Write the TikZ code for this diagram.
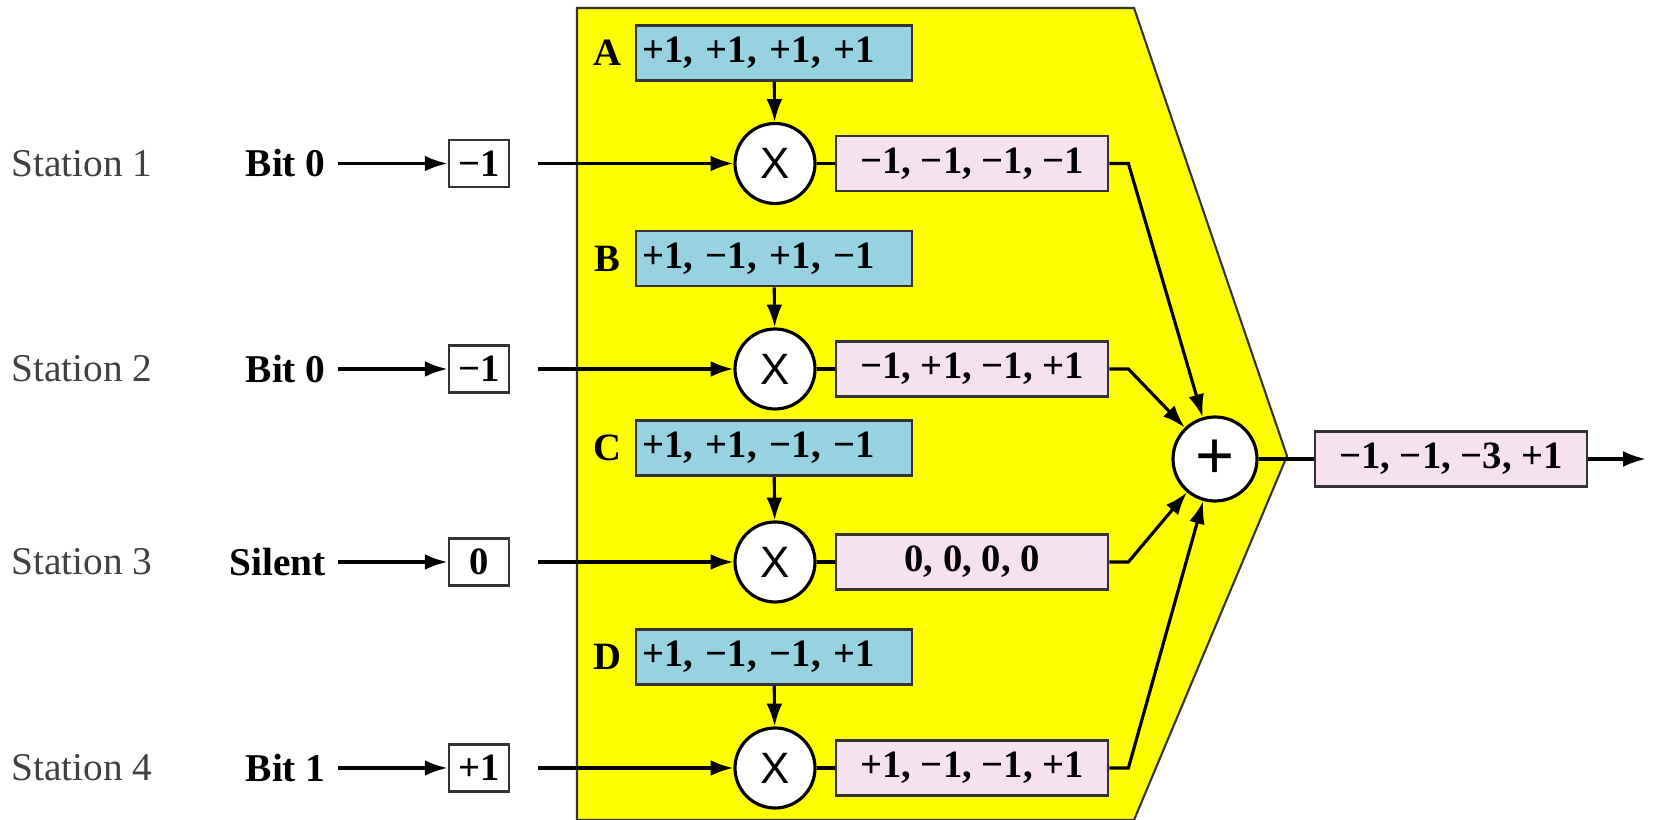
\documentclass[tikz,border=0pt]{standalone}
\usepackage{fontspec}
\setmainfont{Liberation Serif}
\newfontfamily\crossfont{Liberation Sans}
\usetikzlibrary{arrows.meta}
\definecolor{codeblue}{RGB}{150,210,226}
\definecolor{chippink}{RGB}{246,226,238}
\definecolor{boxyellow}{RGB}{255,255,0}
\tikzset{station/.style = {font=\fontsize{11.2}{13}\selectfont\color{black!75}}}
\tikzset{bitlabel/.style = {anchor=east,font=\fontsize{11.2}{13}\selectfont\bfseries}}
\tikzset{bitbox/.style = {shape=rectangle,draw=black!80,line width=0.8pt,fill=white,minimum width=0.6cm,minimum height=0.47cm,inner sep=0pt,font=\fontsize{11}{13}\selectfont\bfseries}}
\tikzset{codebox/.style = {shape=rectangle,draw=black!80,line width=0.8pt,fill=codeblue,text width=2.64cm,inner xsep=0.06cm,minimum height=0.53cm,align=left,font=\fontsize{11}{13}\selectfont\bfseries}}
\tikzset{chipbox/.style = {shape=rectangle,draw=black!80,line width=0.8pt,fill=chippink,minimum width=2.72cm,minimum height=0.55cm,font=\fontsize{11}{13}\selectfont\bfseries}}
\tikzset{mult/.style = {shape=circle,draw,line width=0.9pt,fill=white,minimum size=0.8cm,inner sep=0pt,font=\crossfont\fontsize{12.5}{14}\selectfont}}
\tikzset{sum/.style = {shape=circle,draw,line width=0.9pt,fill=white,minimum size=0.84cm,inner sep=0pt,font=\crossfont\fontsize{19}{22}\selectfont}}
\tikzset{letter/.style = {font=\fontsize{11}{13}\selectfont\bfseries}}
\tikzset{edge/.style = {->,> = {Latex[length=6.5pt,width=4.5pt]},line width=0.9pt}}

\begin{document}
\begin{tikzpicture}
          \useasboundingbox (0,0) rectangle (16.54,8.2);
          \fill[boxyellow,draw=black!80,line width=0.6pt] (5.77,0) -- (5.77,8.12) -- (11.34,8.12) -- (12.87,3.64) -- (11.34,0) -- cycle;

          % stations
          \node[station] (st1) at (0.82,6.565) {Station 1};
          \node[station] (st2) at (0.82,4.51) {Station 2};
          \node[station] (st3) at (0.82,2.58) {Station 3};
          \node[station] (st4) at (0.82,0.52) {Station 4};

          \node[bitlabel] (bit1) at (3.38,6.565) {Bit 0};
          \node[bitlabel] (bit2) at (3.38,4.51) {Bit 0};
          \node[bitlabel] (bit3) at (3.38,2.58) {Silent};
          \node[bitlabel] (bit4) at (3.38,0.52) {Bit 1};

          \node[bitbox] (in1) at (4.79,6.565) {−1};
          \node[bitbox] (in2) at (4.79,4.51) {−1};
          \node[bitbox] (in3) at (4.79,2.58) {0};
          \node[bitbox] (in4) at (4.79,0.52) {+1};

          \coordinate (s1) at (5.38,6.565);
          \coordinate (s2) at (5.38,4.51);
          \coordinate (s3) at (5.38,2.58);
          \coordinate (s4) at (5.38,0.52);

          % chip codes
          \node[letter] (A) at (6.07,7.67) {A};
          \node[letter] (B) at (6.07,5.615) {B};
          \node[letter] (C) at (6.07,3.72) {C};
          \node[letter] (D) at (6.07,1.63) {D};

          \node[codebox] (code1) at (7.74,7.67) {+1, +1, +1, +1};
          \node[codebox] (code2) at (7.74,5.615) {+1, −1, +1, −1};
          \node[codebox] (code3) at (7.74,3.72) {+1, +1, −1, −1};
          \node[codebox] (code4) at (7.74,1.63) {+1, −1, −1, +1};

          \node[mult] (x1) at (7.75,6.565) {X};
          \node[mult] (x2) at (7.75,4.51) {X};
          \node[mult] (x3) at (7.75,2.58) {X};
          \node[mult] (x4) at (7.75,0.52) {X};

          \node[chipbox] (out1) at (9.72,6.565) {−1, −1, −1, −1};
          \node[chipbox] (out2) at (9.72,4.51) {−1, +1, −1, +1};
          \node[chipbox] (out3) at (9.72,2.58) {0, 0, 0, 0};
          \node[chipbox] (out4) at (9.72,0.52) {+1, −1, −1, +1};

          \node[sum] (add) at (12.15,3.61) {+};
          \node[chipbox] (total) at (14.51,3.61) {−1, −1, −3, +1};
          \coordinate (end) at (16.46,3.61);

          \foreach \i in {1,2,3,4} {
            \path[edge] (bit\i) edge (in\i);
            \path[edge] (s\i) edge (x\i);
            \path[edge] (code\i) edge (x\i);
            \draw[line width=0.9pt] (x\i) -- (out\i);
            \draw[edge] (out\i.east) -- ++(0.19,0) -- (add);
          }

          \draw[line width=0.9pt] (add) -- (total);
          \path[edge] (total) edge (end);
        \end{tikzpicture}
\end{document}
